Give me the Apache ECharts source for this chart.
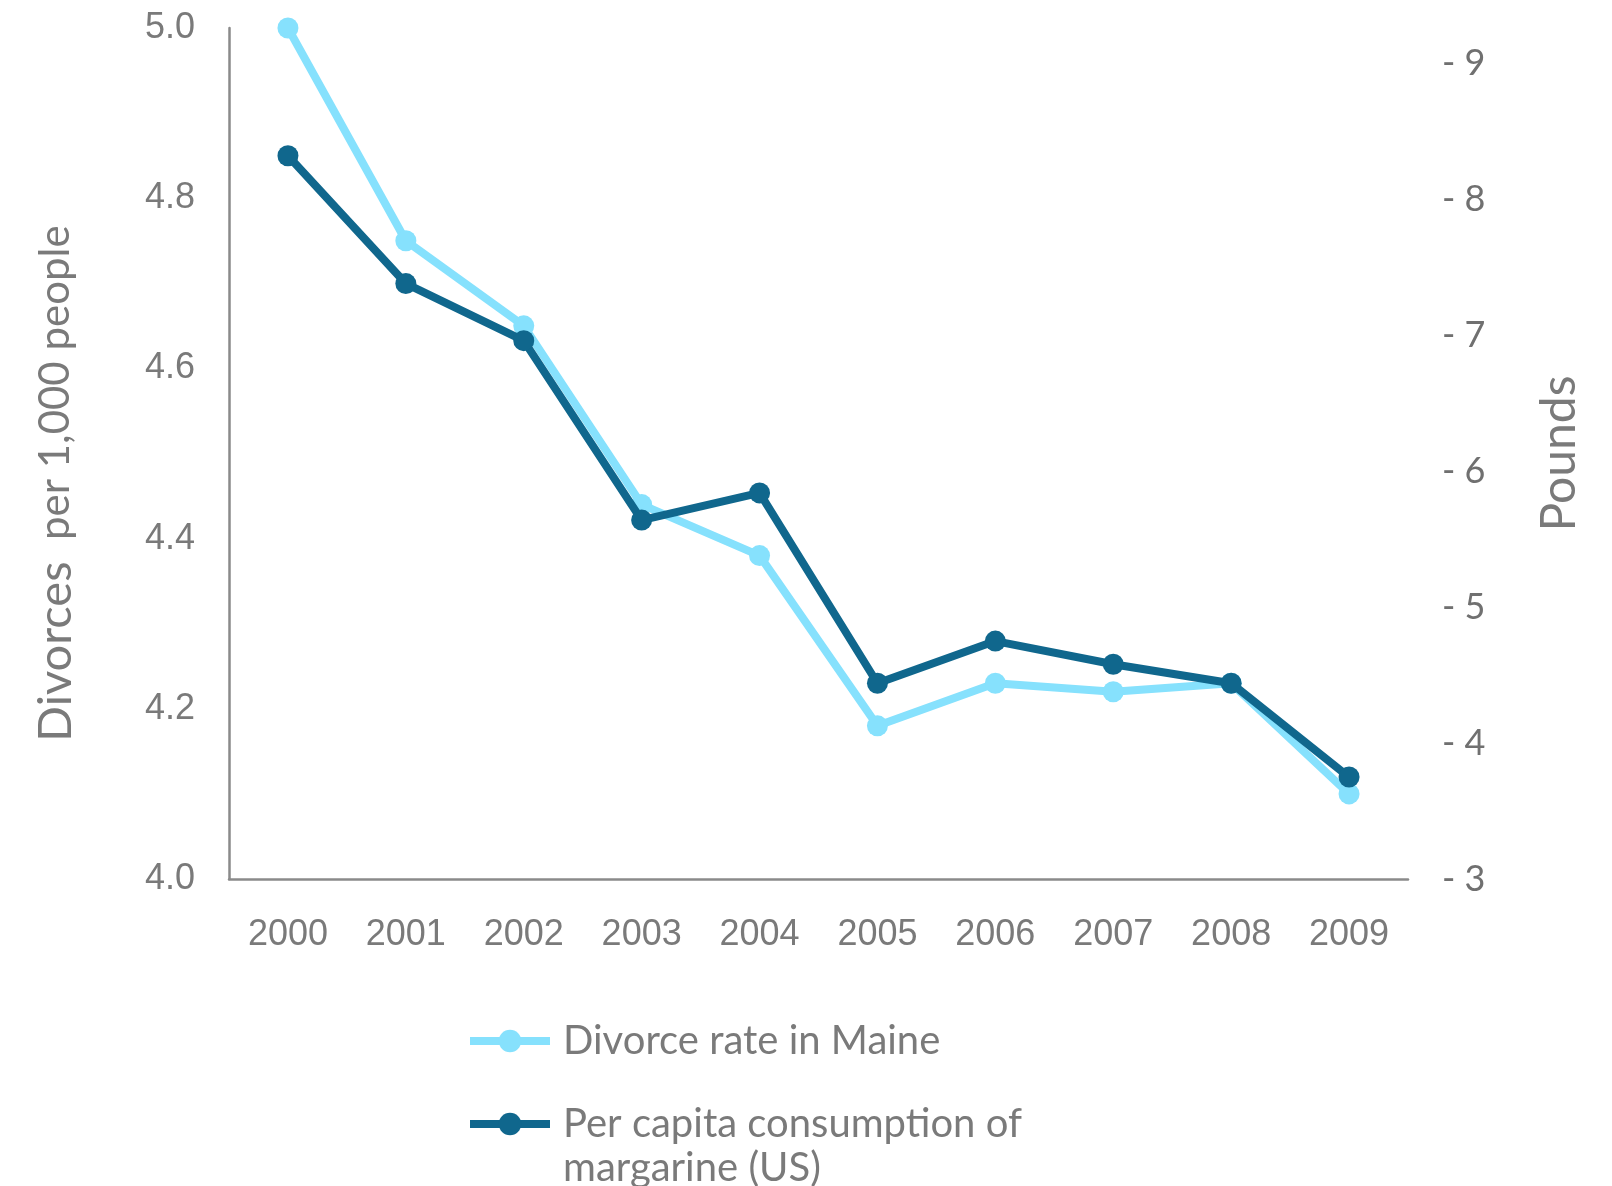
<!DOCTYPE html>
<html>
<head>
<meta charset="utf-8">
<script src="https://cdn.jsdelivr.net/npm/echarts@6/dist/echarts.min.js"></script>
<style>
  html, body { margin: 0; padding: 0; background: #ffffff; }
  #chart { width: 1612px; height: 1186px; }
</style>
</head>
<body>
<div id="chart"></div>
<script>
const years = ['2000', '2001', '2002', '2003', '2004', '2005', '2006', '2007', '2008', '2009'];
const divorceRateMaine = [5.00, 4.75, 4.65, 4.44, 4.38, 4.18, 4.23, 4.22, 4.23, 4.10];
const margarinePerCapita = [8.32, 7.38, 6.96, 5.64, 5.84, 4.44, 4.75, 4.58, 4.44, 3.75];
const seriesNames = ['Divorce rate in Maine', 'Per capita consumption of margarine (US)'];
const legendLabels = ['Divorce rate in Maine', 'Per capita consumption of\nmargarine (US)'];
const leftAxisTitle = ['Divorces', 'per 1,000 people'];
const rightAxisTitle = 'Pounds';

const lightColor = '#86E1FD';
const darkColor = '#10678D';
const axisGrey = '#8a8a8a';
const textGrey = '#7a7a7a';

const chart = echarts.init(document.getElementById('chart'), null, { renderer: 'canvas' });

const legendCommon = {
  orient: 'vertical',
  left: 461,
  itemWidth: 80,
  itemHeight: 28,
  lineStyle: { width: 8 },
  textStyle: { fontFamily: 'Lato', fontSize: 40, lineHeight: 44, color: textGrey, padding: [0, 0, 0, 8] }
};

chart.setOption({
  backgroundColor: '#ffffff',
  animation: false,
  grid: { left: 229, right: 204, top: 28, bottom: 307, containLabel: false },
  legend: [
    Object.assign({}, legendCommon, {
      data: [seriesNames[0]],
      top: 1014,
      formatter: function () { return legendLabels[0]; }
    }),
    Object.assign({}, legendCommon, {
      data: [seriesNames[1]],
      top: 1053,
      formatter: function () { return ' \n' + legendLabels[1]; }
    })
  ],
  xAxis: {
    type: 'category',
    data: years,
    boundaryGap: true,
    axisLine: { show: true, lineStyle: { color: axisGrey, width: 2.5 } },
    axisTick: { show: false },
    axisLabel: { fontFamily: 'Liberation Sans', fontSize: 36, color: textGrey, margin: 38 },
    splitLine: { show: false }
  },
  yAxis: [
    {
      type: 'value',
      position: 'left',
      min: 4.0,
      max: 5.0,
      interval: 0.2,
      axisLine: { show: true, lineStyle: { color: axisGrey, width: 2.5 } },
      axisTick: { show: false },
      splitLine: { show: false },
      axisLabel: {
        fontFamily: 'Liberation Sans', fontSize: 36, color: textGrey, margin: 34,
        padding: [8, 0, 0, 0],
        formatter: function (v) { return v.toFixed(1); }
      },
      name: '{big|' + leftAxisTitle[0] + '}{small|  ' + leftAxisTitle[1] + '}',
      nameLocation: 'middle',
      nameRotate: 90,
      nameGap: 150,
      nameTextStyle: {
        color: textGrey,
        padding: [0, 60, 0, 0],
        rich: {
          big: { fontFamily: 'Lato', fontSize: 47, color: textGrey },
          small: { fontFamily: 'Lato', fontSize: 42, color: textGrey }
        }
      }
    },
    {
      type: 'value',
      position: 'right',
      min: 3,
      max: 9.26,
      interval: 1,
      axisLine: { show: false },
      axisTick: { show: false },
      splitLine: { show: false },
      axisLabel: {
        fontFamily: 'Lato', fontSize: 36, color: '#707070', margin: 34,
        padding: [6, 0, 0, 0],
        showMaxLabel: false,
        formatter: function (v) { return '- ' + v; }
      },
      name: rightAxisTitle,
      nameLocation: 'middle',
      nameRotate: 90,
      nameGap: 128,
      nameTextStyle: { fontFamily: 'Lato', fontSize: 48, color: textGrey }
    }
  ],
  series: [
    {
      name: seriesNames[0],
      type: 'line',
      yAxisIndex: 0,
      data: divorceRateMaine,
      symbol: 'circle',
      symbolSize: 21,
      lineStyle: { color: lightColor, width: 8 },
      itemStyle: { color: lightColor },
      z: 2
    },
    {
      name: seriesNames[1],
      type: 'line',
      yAxisIndex: 1,
      data: margarinePerCapita,
      symbol: 'circle',
      symbolSize: 21,
      lineStyle: { color: darkColor, width: 8 },
      itemStyle: { color: darkColor },
      z: 3
    }
  ]
});
</script>
</body>
</html>
